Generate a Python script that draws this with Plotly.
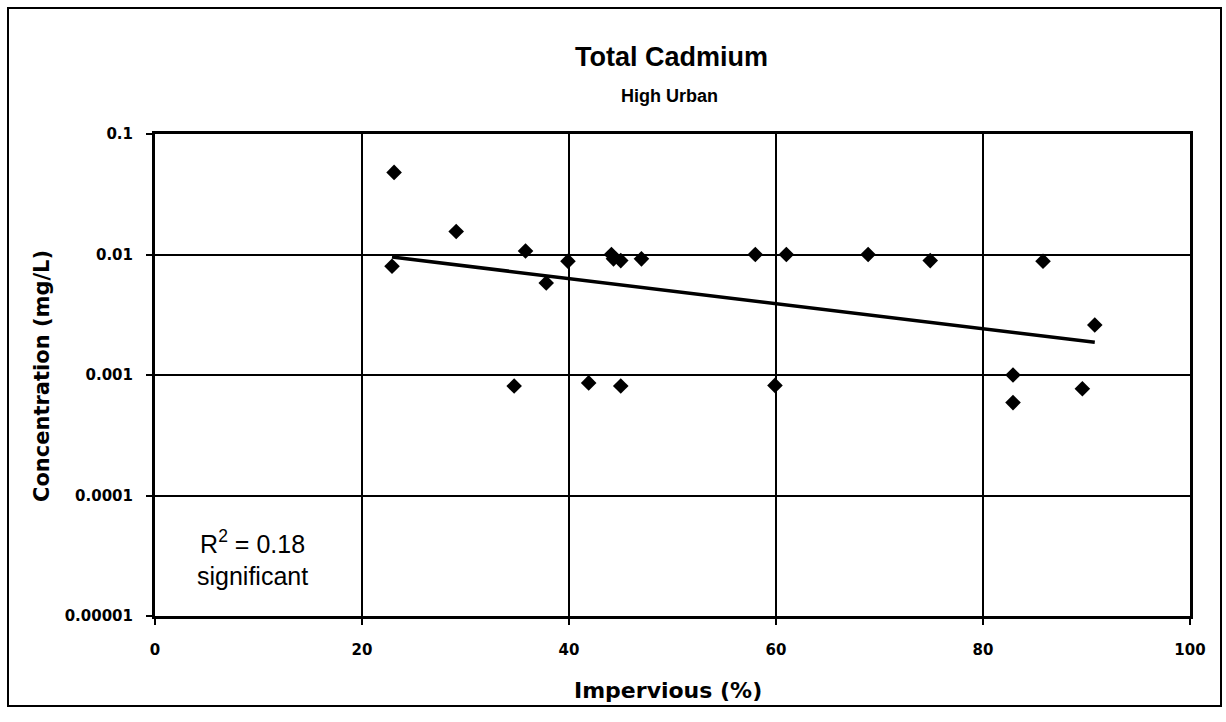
import numpy as np
import plotly.graph_objects as go

# Site observations: impervious cover (%) vs. total cadmium (mg/L)
impervious_pct = [23.1, 22.9, 29.1, 35.8, 37.8, 39.9, 44.1, 44.3, 45.0, 47.0,
                  34.7, 41.9, 45.0, 58.0, 61.0, 68.9, 74.9, 85.8, 90.8, 59.9,
                  82.9, 82.9, 89.6]
cadmium_mg_l = [0.048, 0.0080, 0.0155, 0.0107, 0.0058, 0.0088, 0.0100, 0.0092,
                0.0089, 0.0092, 0.00081, 0.00086, 0.00081, 0.0100, 0.0100,
                0.0100, 0.0089, 0.0088, 0.0026, 0.00082, 0.0010, 0.00059,
                0.00077]

r_squared = 0.18
significance = "significant"

x_tick_values = [0, 20, 40, 60, 80, 100]
x_tick_labels = ["0", "20", "40", "60", "80", "100"]
y_tick_values = [1e-5, 1e-4, 1e-3, 1e-2, 1e-1]
y_tick_labels = ["0.00001", "0.0001", "0.001", "0.01", "0.1"]

# Exponential trendline: least-squares fit of ln(concentration) on impervious %
x_arr = np.array(impervious_pct)
y_arr = np.array(cadmium_mg_l)
slope, intercept = np.polyfit(x_arr, np.log(y_arr), 1)
trend_x = np.linspace(x_arr.min(), x_arr.max(), 50)
trend_y = np.exp(intercept + slope * trend_x)

W, H = 1226, 722
L, R, T, B = 155, 36, 134, 106
plot_w = W - L - R
plot_h = H - T - B


def px_x(px):
    return (px - L) / plot_w


def px_y(py):
    return (H - B - py) / plot_h


fig = go.Figure()
fig.add_trace(go.Scatter(
    x=trend_x, y=trend_y, mode="lines",
    line=dict(color="black", width=3.5), hoverinfo="skip", showlegend=False))
fig.add_trace(go.Scatter(
    x=impervious_pct, y=cadmium_mg_l, mode="markers",
    marker=dict(symbol="diamond", size=12, color="black"),
    showlegend=False))

tick_font = dict(family="DejaVu Sans", size=15, color="black", weight="bold")

fig.update_xaxes(
    range=[0, 100], tickvals=x_tick_values, ticktext=x_tick_labels,
    showgrid=True, gridcolor="black", gridwidth=2,
    showline=True, linecolor="black", linewidth=3, mirror=True,
    ticks="outside", ticklen=6, tickwidth=2, tickcolor="black",
    tickfont=tick_font, ticklabelstandoff=12, zeroline=False)
fig.update_yaxes(
    type="log", range=[-5, -1], tickvals=y_tick_values, ticktext=y_tick_labels,
    showgrid=True, gridcolor="black", gridwidth=2,
    showline=True, linecolor="black", linewidth=3, mirror=True,
    ticks="outside", ticklen=6, tickwidth=2, tickcolor="black",
    tickfont=tick_font, ticklabelstandoff=10, zeroline=False)

title_font = dict(family="Liberation Sans", color="black", weight="bold")
axis_title_font = dict(family="DejaVu Sans", size=21, color="black", weight="bold")

annotations = [
    dict(text="Total Cadmium", x=px_x(671), y=px_y(57), xref="paper", yref="paper",
         showarrow=False, xanchor="center", yanchor="middle",
         font=dict(title_font, size=27)),
    dict(text="High Urban", x=px_x(669), y=px_y(96), xref="paper", yref="paper",
         showarrow=False, xanchor="center", yanchor="middle",
         font=dict(title_font, size=18)),
    dict(text="Concentration (mg/L)", x=px_x(42), y=px_y(376), xref="paper",
         yref="paper", showarrow=False, textangle=-90,
         xanchor="center", yanchor="middle", font=axis_title_font),
    dict(text="Impervious (%)", x=px_x(668), y=px_y(690), xref="paper",
         yref="paper", showarrow=False, xanchor="center", yanchor="middle",
         font=dict(axis_title_font, size=22)),
    dict(text=f"R<sup>2</sup> = {r_squared:.2f}<br>{significance}",
         x=px_x(252), y=px_y(558), xref="paper", yref="paper",
         showarrow=False, xanchor="center", yanchor="middle", align="center",
         font=dict(family="Liberation Sans", size=25, color="black")),
]

# Outer chart frame
frame = dict(type="rect", xref="paper", yref="paper",
             x0=px_x(8), x1=px_x(1221), y0=px_y(706), y1=px_y(8),
             line=dict(color="black", width=2), fillcolor="rgba(0,0,0,0)",
             layer="below")

fig.update_layout(
    width=W, height=H,
    margin=dict(l=L, r=R, t=T, b=B, pad=0),
    paper_bgcolor="white", plot_bgcolor="white",
    annotations=annotations, shapes=[frame],
    showlegend=False)

fig.write_html("out.html")
